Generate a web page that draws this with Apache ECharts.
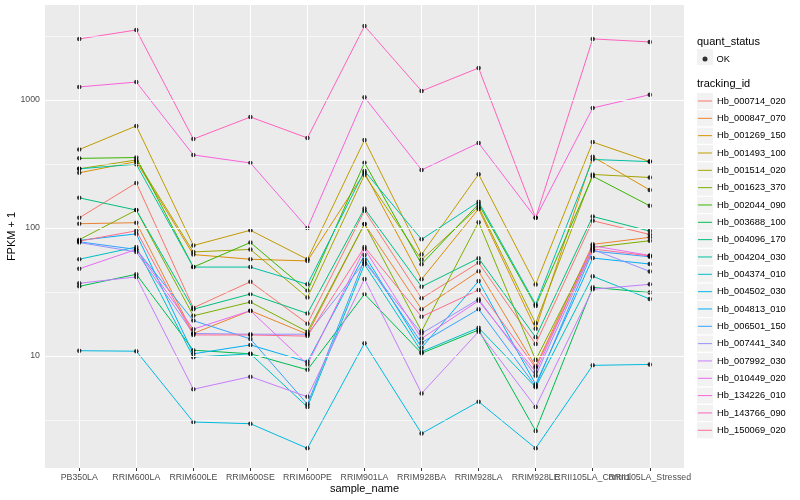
<!DOCTYPE html>
<html><head><meta charset="utf-8">
<script src="https://cdn.jsdelivr.net/npm/echarts@6/dist/echarts.min.js"></script>
<style>html,body{margin:0;padding:0;background:#fff}#c{width:800px;height:500px}</style>
</head><body><div id="c"></div>
<script>
// ---- data ----
const categories = ["PB350LA","RRIM600LA","RRIM600LE","RRIM600SE","RRIM600PE","RRIM901LA","RRIM928BA","RRIM928LA","RRIM928LE","RRII105LA_Control","RRII105LA_Stressed"];
const seriesNames = ["Hb_000714_020","Hb_000847_070","Hb_001269_150","Hb_001493_100","Hb_001514_020","Hb_001623_370","Hb_002044_090","Hb_003688_100","Hb_004096_170","Hb_004204_030","Hb_004374_010","Hb_004502_030","Hb_004813_010","Hb_006501_150","Hb_007441_340","Hb_007992_030","Hb_010449_020","Hb_134226_010","Hb_143766_090","Hb_150069_020"];
const seriesColors = ["#F8766D","#EA8331","#D89000","#C09B00","#A3A500","#7CAE00","#39B600","#00BB4E","#00BF7D","#00C1A3","#00BFC4","#00BAE0","#00B0F6","#35A2FF","#9590FF","#C77CFF","#E76BF3","#FA62DB","#FF62BC","#FF6C91"];
const hb_000714_020 = [120, 225, 23.8, 38, 17.9, 136.6, 28.2, 53.5, 12.4, 114, 89];
const hb_000847_070 = [108, 110, 15, 22.6, 14.8, 107.5, 23.2, 46, 8.3, 74.5, 84.5];
const hb_001269_150 = [270, 330, 62, 57, 55.3, 270, 39.7, 141, 16.3, 360, 198];
const hb_001493_100 = [410, 627, 73, 96, 56.9, 487, 62, 263, 36.2, 469, 330];
const hb_001514_020 = [290, 340, 65, 68, 28.6, 260, 56.6, 146, 18, 262, 248];
const hb_001623_370 = [81, 138, 20.6, 26.4, 15.5, 107.5, 15.6, 111, 9.3, 70.6, 79.5];
const hb_002044_090 = [350, 355, 49.5, 77, 32.3, 323, 52.2, 154, 24.6, 254, 149];
const hb_003688_100 = [35, 43.5, 11.1, 10.4, 7.8, 30.5, 10.5, 16, 2.6, 34.4, 31.3];
const hb_004096_170 = [172, 138, 23.2, 30.5, 21.5, 142, 34.8, 58, 14, 123, 94.6];
const hb_004204_030 = [290, 315, 49.5, 49.5, 36.3, 279, 81.5, 160, 25.3, 343, 330];
const hb_004374_010 = [57, 71, 9.8, 10.4, 4.0, 52, 10.8, 16.6, 5.7, 42, 27.9];
const hb_004502_030 = [11, 10.9, 3.05, 2.96, 1.9, 12.6, 2.48, 4.4, 1.9, 8.45, 8.6];
const hb_004813_010 = [80, 90, 10.4, 12.2, 9.0, 61.6, 11.6, 38.5, 6.0, 58.2, 52.3];
const hb_006501_150 = [78, 68, 18.9, 13.6, 4.2, 56.6, 12.7, 23.2, 5.8, 66, 59.6];
const hb_007441_340 = [77, 65, 15, 14.8, 14.8, 54, 15, 27.8, 7.0, 68, 45.8];
const hb_007992_030 = [37, 41.5, 5.5, 6.9, 4.8, 40, 5.1, 15.5, 4.0, 33.2, 36.3];
const hb_010449_020 = [48, 68, 16.2, 22.6, 8.6, 68.6, 13.7, 27, 7.5, 72.6, 61];
const hb_134226_010 = [1265, 1380, 372, 322, 100, 1050, 284, 461, 120, 866, 1100];
const hb_143766_090 = [3000, 3520, 495, 736, 505, 3785, 1175, 1778, 120, 3000, 2840];
const hb_150069_020 = [79, 95, 14.6, 14.6, 14.3, 71, 20.3, 32.8, 8.1, 68.6, 60.5];
const seriesValues = [hb_000714_020,hb_000847_070,hb_001269_150,hb_001493_100,hb_001514_020,hb_001623_370,hb_002044_090,hb_003688_100,hb_004096_170,hb_004204_030,hb_004374_010,hb_004502_030,hb_004813_010,hb_006501_150,hb_007441_340,hb_007992_030,hb_010449_020,hb_134226_010,hb_143766_090,hb_150069_020];
const yTickValues = [10, 100, 1000];
const yMinorGrid = [3.1623, 31.623, 316.23, 3162.3];
const statusName = "OK";

// ---- chart ----
const FONT = "Liberation Sans";
const chart = echarts.init(document.getElementById('c'), null, {renderer: 'canvas'});
const catIdx = categories.map((_, i) => i);
const evenIdx = catIdx.filter(i => i % 2 === 0);
const oddIdx = catIdx.filter(i => i % 2 === 1);

const lineSeries = seriesNames.map((n, i) => ({
  name: n, type: 'line', symbol: 'none', showSymbol: false, silent: true, z: 2,
  data: seriesValues[i].map((v, j) => [j, v]),
  lineStyle: {color: seriesColors[i], width: 1},
  itemStyle: {color: seriesColors[i]}
}));
const pointData = [];
seriesValues.forEach(arr => arr.forEach((v, j) => pointData.push([j, v])));

const white = (w) => ({color: '#FFFFFF', width: w, type: 'solid'});
const gridLines = [];
yTickValues.forEach(v => gridLines.push({yAxis: v, lineStyle: white(1.1)}));
yMinorGrid.forEach(v => gridLines.push({yAxis: v, lineStyle: white(0.55)}));
catIdx.forEach(i => gridLines.push({xAxis: i, lineStyle: white(1.1)}));

const legendTop = 101, legendStep = 17.33;
const graphics = [
  {type: 'text', left: 697, top: 36, style: {text: 'quant_status', font: '11px ' + FONT, fill: '#000'}},
  {type: 'rect', shape: {x: 697, y: 49, width: 16, height: 16}, style: {fill: '#F2F2F2'}, z: -1},
  {type: 'text', left: 697, top: 78, style: {text: 'tracking_id', font: '11px ' + FONT, fill: '#000'}}
];
seriesNames.forEach((n, k) => graphics.push({type: 'rect', shape: {x: 697, y: legendTop + k * legendStep - 8, width: 16, height: 16}, style: {fill: '#F2F2F2'}, z: -1}));

const xLabelStyle = {color: '#4D4D4D', fontSize: 8.8, margin: 5, fontFamily: FONT, hideOverlap: false, showMinLabel: true, showMaxLabel: true,
                     formatter: v => categories[Math.round(v)]};
const xTickStyle = {show: true, length: 3, lineStyle: {color: '#333333', width: 1}};

chart.setOption({
  animation: false,
  backgroundColor: '#FFFFFF',
  textStyle: {fontFamily: FONT},
  grid: {left: 45, right: 116, top: 5, bottom: 32, show: true, backgroundColor: '#EBEBEB', borderWidth: 0,
         containLabel: false, outerBoundsMode: 'none'},
  xAxis: [{
    type: 'value', min: -0.6, max: 10.6, position: 'bottom',
    splitLine: {show: false}, axisLine: {show: false},
    axisTick: Object.assign({customValues: evenIdx}, xTickStyle),
    axisLabel: Object.assign({customValues: evenIdx}, xLabelStyle),
    name: 'sample_name', nameLocation: 'middle', nameGap: 15, nameMoveOverlap: false,
    nameTextStyle: {color: '#000', fontSize: 11, fontFamily: FONT}
  }, {
    type: 'value', min: -0.6, max: 10.6, position: 'bottom', offset: 0,
    splitLine: {show: false}, axisLine: {show: false},
    axisTick: Object.assign({customValues: oddIdx}, xTickStyle),
    axisLabel: Object.assign({customValues: oddIdx}, xLabelStyle)
  }],
  yAxis: {
    type: 'log', logBase: 10, min: 1.334, max: 5520,
    splitLine: {show: false}, axisLine: {show: false},
    axisTick: {show: true, customValues: yTickValues, length: 3, lineStyle: {color: '#333333', width: 1}},
    axisLabel: {customValues: yTickValues, formatter: v => String(Math.round(v)), color: '#4D4D4D', fontSize: 8.8, margin: 5, fontFamily: FONT},
    name: 'FPKM + 1', nameLocation: 'middle', nameGap: 28, nameRotate: 90, nameMoveOverlap: false,
    nameTextStyle: {color: '#000', fontSize: 11, fontFamily: FONT}
  },
  legend: [
    {data: [statusName], orient: 'vertical', left: 702.5, top: 54.5, padding: 0, itemWidth: 5, itemHeight: 5, icon: 'circle',
     textStyle: {fontSize: 9.3, color: '#000', fontFamily: FONT, padding: [0, 0, 0, 4]}, selectedMode: false},
    {data: seriesNames, orient: 'vertical', left: 698, top: legendTop - 7, padding: 0, itemWidth: 14, itemHeight: 14, itemGap: legendStep - 14,
     icon: 'path://M0,0h14v1h-14z', symbolKeepAspect: true,
     textStyle: {fontSize: 9.3, lineHeight: 14, color: '#000', fontFamily: FONT}, selectedMode: false}
  ],
  graphic: graphics,
  series: [
    {type: 'line', data: [], z: 1, silent: true,
     markLine: {silent: true, symbol: 'none', label: {show: false}, animation: false, data: gridLines}},
    ...lineSeries,
    {name: statusName, type: 'scatter', data: pointData, symbol: 'circle', symbolSize: 4.5, z: 3, silent: true,
     itemStyle: {color: '#000000'}}
  ]
});
</script></body></html>
